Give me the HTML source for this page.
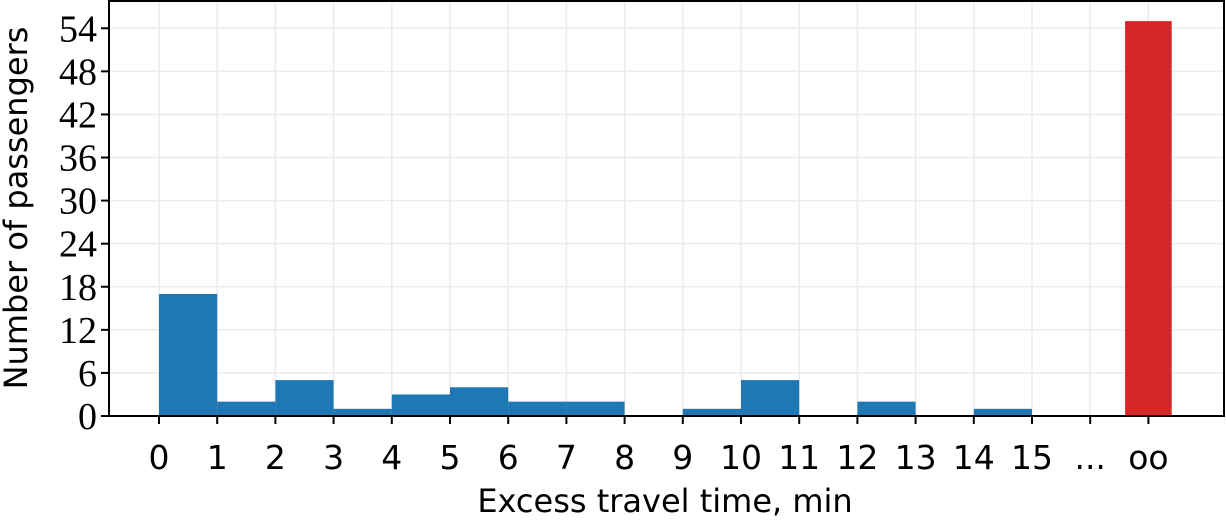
<!DOCTYPE html>
<html><head><meta charset="utf-8"><style>
body{margin:0;background:#fff;}
svg{display:block;}
.yt{font-family:"Liberation Serif",serif;font-size:38px;}
.xt{font-family:"DejaVu Sans","Liberation Sans",sans-serif;font-size:33px;}
.ttl{font-family:"DejaVu Sans","Liberation Sans",sans-serif;font-size:32px;}
</style></head><body>
<svg id="c" width="1226" height="524"></svg>
<script>
const binStarts=[0,1,2,3,4,5,6,7,8,9,10,11,12,13,14,15];
const counts=[17,2,5,1,3,4,2,2,0,1,5,0,2,0,1,0];
const infCount=55;
const xTickLabels=["0","1","2","3","4","5","6","7","8","9","10","11","12","13","14","15","...","oo"];
const yTicks=[0,6,12,18,24,30,36,42,48,54];
const NS="http://www.w3.org/2000/svg";
const svg=document.getElementById('c');
const L=109,R=1224,T=1,B=416;
const x=v=>159+v*58.2;
const y=v=>B-v*7.18;
function mk(t,a){const e=document.createElementNS(NS,t);for(const k in a)e.setAttribute(k,a[k]);svg.appendChild(e);return e;}
xTickLabels.forEach((l,i)=>{const g=mk('line',{x1:x(i),x2:x(i),y1:T,y2:B,stroke:'#ebebeb','stroke-width':1.5});

});
yTicks.forEach(v=>{const g=mk('line',{x1:L,x2:R,y1:y(v),y2:y(v),stroke:'#ebebeb','stroke-width':1.5});

});
binStarts.forEach((b,i)=>{if(counts[i]<=0)return;const r=mk('rect',{x:x(b),y:y(counts[i]),width:x(b+1)-x(b),height:B-y(counts[i]),fill:'#1f77b4'});

});
const ib=mk('rect',{x:x(17)-23.3,y:y(infCount),width:46.6,height:B-y(infCount),fill:'#d62728'});


const f=mk('rect',{x:L,y:T,width:R-L,height:B-T,fill:'none',stroke:'#000','stroke-width':2});


xTickLabels.forEach((l,i)=>{mk('line',{x1:x(i),x2:x(i),y1:B,y2:B+8,stroke:'#000','stroke-width':2});
const t=mk('text',{x:x(i),y:B+53,'text-anchor':'middle',class:'xt'});t.textContent=l;

});
yTicks.forEach(v=>{mk('line',{x1:L-8,x2:L,y1:y(v),y2:y(v),stroke:'#000','stroke-width':2});
const t=mk('text',{x:L-12,y:y(v)+13,'text-anchor':'end',class:'yt'});t.textContent=v;

});
const xt=mk('text',{x:665,y:512,'text-anchor':'middle',class:'ttl'});xt.textContent='Excess travel time, min';


const yt=mk('text',{x:0,y:0,'text-anchor':'middle',class:'ttl',transform:'translate(27,208) rotate(-90)'});yt.textContent='Number of passengers';


</script>
</body></html>
